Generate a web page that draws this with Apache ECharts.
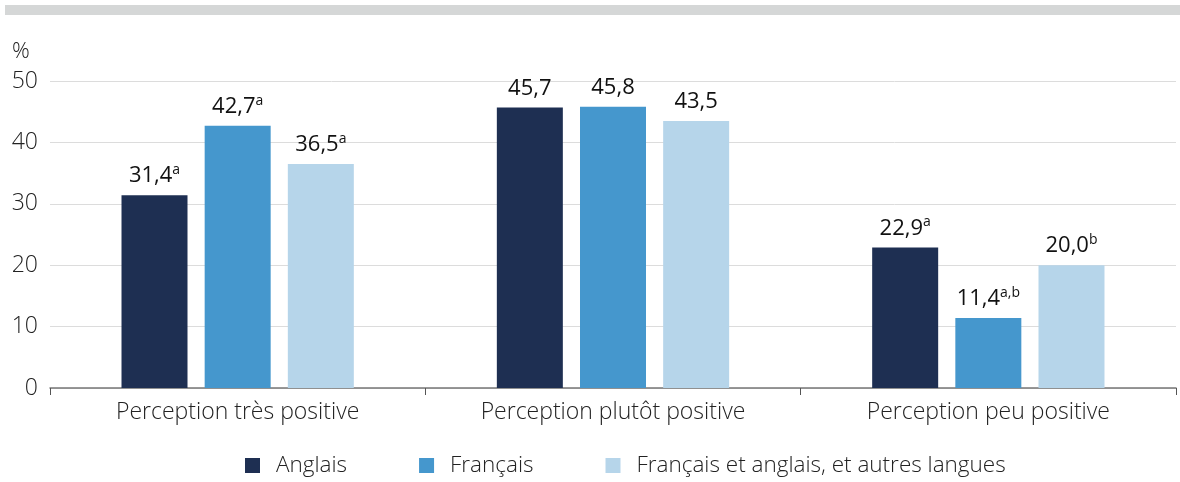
<!DOCTYPE html>
<html>
<head>
<meta charset="utf-8">
<script src="https://cdn.jsdelivr.net/npm/echarts@6/dist/echarts.min.js"></script>
<style>
  html, body { margin: 0; padding: 0; background: #fff; }
  #chart { width: 1180px; height: 482px; }
</style>
</head>
<body>
<div id="chart"></div>
<script>
const categories = ["Perception très positive", "Perception plutôt positive", "Perception peu positive"]
const seriesNames = ["Anglais", "Français", "Français et anglais, et autres langues"]
const anglais = [31.4, 45.7, 22.9]
const francais = [42.7, 45.8, 11.4]
const autres = [36.5, 43.5, 20.0]
// superscript notes for each bar label
const notesAnglais = ["a", "", "a"]
const notesFrancais = ["a", "", "a,b"]
const notesAutres = ["a", "", "b"]
const yTicks = [0, 10, 20, 30, 40, 50]

const colors = ["#1e2f52", "#4597cd", "#b6d5ea"]
const font = "Open Sans"

const chart = echarts.init(document.getElementById("chart"))

const makeSeries = (name, values, notes, color) => ({
  name: name,
  type: "bar",
  data: values,
  barWidth: 66,
  barGap: "26%",
  itemStyle: { color: color },
  label: {
    show: true,
    position: "top",
    distance: 6,
    formatter: (p) => {
      const txt = p.value.toFixed(1).replace(".", ",")
      const n = notes[p.dataIndex]
      return n ? "{v|" + txt + "}{s|" + n + "}" : "{v|" + txt + "}"
    },
    rich: {
      v: { fontFamily: font, fontSize: 22, color: "#111", lineHeight: 26 },
      s: { fontFamily: font, fontSize: 14, color: "#111", verticalAlign: "top", lineHeight: 26, padding: [0, 0, 8, 0] },
    },
  },
})

const option = {
  animation: false,
  textStyle: { fontFamily: font },
  graphic: [
    { type: "rect", shape: { x: 5, y: 5, width: 1175, height: 10 }, style: { fill: "#d5d7d7" } },
  ],
  grid: { left: 50, right: 4, top: 81, bottom: 94 },
  legend: {
    bottom: 0,
    left: 240,
    itemWidth: 15,
    itemHeight: 15,
    itemGap: 72,
    icon: "rect",
    textStyle: { fontFamily: font, fontSize: 22.5, fontWeight: 300, color: "#222", padding: [0, 0, 0, 11] },
    data: seriesNames,
  },
  xAxis: {
    type: "category",
    data: categories,
    axisLine: { lineStyle: { color: "#777", width: 1.5 } },
    axisTick: { show: true, length: 7, lineStyle: { color: "#555" } },
    axisLabel: { fontFamily: font, fontSize: 23, fontWeight: 300, color: "#222", margin: 13 },
  },
  yAxis: {
    type: "value",
    min: yTicks[0],
    max: yTicks[yTicks.length - 1],
    interval: 10,
    name: "%",
    nameLocation: "end",
    nameGap: 18,
    nameTextStyle: { fontFamily: font, fontSize: 22, fontWeight: 300, color: "#222", align: "left", padding: [0, 0, 0, -38] },
    axisLine: { show: false },
    axisTick: { show: false },
    axisLabel: { fontFamily: font, fontSize: 23, fontWeight: 300, color: "#222", margin: 12 },
    splitLine: { lineStyle: { color: "#dcdcdc" } },
  },
  series: [
    makeSeries(seriesNames[0], anglais, notesAnglais, colors[0]),
    makeSeries(seriesNames[1], francais, notesFrancais, colors[1]),
    makeSeries(seriesNames[2], autres, notesAutres, colors[2]),
  ],
}

chart.setOption(option)
</script>
</body>
</html>
